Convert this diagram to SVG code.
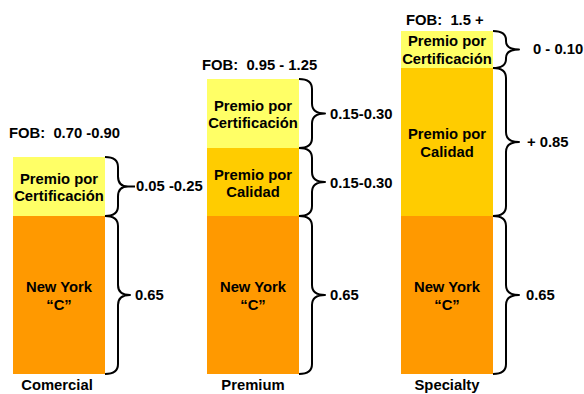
<svg xmlns="http://www.w3.org/2000/svg" width="584" height="394" viewBox="0 0 584 394">
<style>
text{font-family:"Liberation Sans",Arial,sans-serif;font-weight:bold;font-size:14.8px;fill:#000}
.c{text-anchor:middle}
.y{fill:#FFFF66}
.q{fill:#FFCC00}
.o{fill:#FF9900}
.br{fill:none;stroke:#000;stroke-width:2;stroke-linejoin:round}
</style>
<rect width="584" height="394" fill="#fff"/>
<g id="comercial">
<rect class="y" x="13" y="157" width="92" height="59"/>
<rect class="o" x="13" y="216" width="92" height="158"/>
<text class="c" x="59" y="184">Premio por</text>
<text class="c" x="59" y="201">Certificación</text>
<text class="c" x="59" y="292">New York</text>
<text class="c" x="59" y="310">“C”</text>
<text x="9" y="138" xml:space="preserve">FOB:  0.70 -0.90</text>
<text x="136" y="191">0.05 -0.25</text>
<text x="135" y="300">0.65</text>
<text class="c" x="57" y="390">Comercial</text>
</g>
<g id="premium">
<rect class="y" x="207" y="79" width="92" height="69"/>
<rect class="q" x="207" y="148" width="92" height="68"/>
<rect class="o" x="207" y="216" width="92" height="158"/>
<text class="c" x="253" y="111">Premio por</text>
<text class="c" x="253" y="128">Certificación</text>
<text class="c" x="253" y="180">Premio por</text>
<text class="c" x="253" y="197">Calidad</text>
<text class="c" x="253" y="292">New York</text>
<text class="c" x="253" y="310">“C”</text>
<text x="202" y="70" xml:space="preserve">FOB:  0.95 - 1.25</text>
<text x="330" y="119">0.15-0.30</text>
<text x="330" y="188">0.15-0.30</text>
<text x="330" y="300">0.65</text>
<text class="c" x="253" y="390">Premium</text>
</g>
<g id="specialty">
<rect class="y" x="401" y="31" width="92" height="37"/>
<rect class="q" x="401" y="68" width="92" height="148"/>
<rect class="o" x="401" y="216" width="92" height="158"/>
<text class="c" x="447" y="46">Premio por</text>
<text class="c" x="447" y="64">Certificación</text>
<text class="c" x="447" y="139">Premio por</text>
<text class="c" x="447" y="157">Calidad</text>
<text class="c" x="447" y="292">New York</text>
<text class="c" x="447" y="310">“C”</text>
<text x="406" y="25" xml:space="preserve">FOB:  1.5 +</text>
<text x="533" y="54">0 - 0.10</text>
<text x="527" y="147">+ 0.85</text>
<text x="526" y="300">0.65</text>
<text class="c" x="447" y="390">Specialty</text>
</g>
<g id="connectors">
<path class="br" d="M105,157 Q118,157 118,167 L118,176.5 Q118,186.5 128,186.5 L135,186.5 M128,186.5 Q118,186.5 118,196.5 L118,206 Q118,216 105,216"/>
<path class="br" d="M105,216 Q118,216 118,226 L118,285 Q118,295 130,295 Q118,295 118,305 L118,364 Q118,374 105,374"/>
<path class="br" d="M299,79 Q312,79 312,89 L312,103.5 Q312,113.5 325,113.5 Q312,113.5 312,123.5 L312,138 Q312,148 299,148"/>
<path class="br" d="M299,148 Q312,148 312,158 L312,172 Q312,182 325,182 Q312,182 312,192 L312,206 Q312,216 299,216"/>
<path class="br" d="M299,216 Q312,216 312,226 L312,285 Q312,295 325,295 Q312,295 312,305 L312,364 Q312,374 299,374"/>
<path class="br" d="M493,31 Q506,31 506,40 L506,41 Q506,49.5 519,49.5 Q506,49.5 506,58 L506,59 Q506,68 493,68"/>
<path class="br" d="M493,68 Q506,68 506,78 L506,132 Q506,142 519,142 Q506,142 506,152 L506,206 Q506,216 493,216"/>
<path class="br" d="M493,216 Q506,216 506,226 L506,285 Q506,295 519,295 Q506,295 506,305 L506,364 Q506,374 493,374"/>
</g>
</svg>
